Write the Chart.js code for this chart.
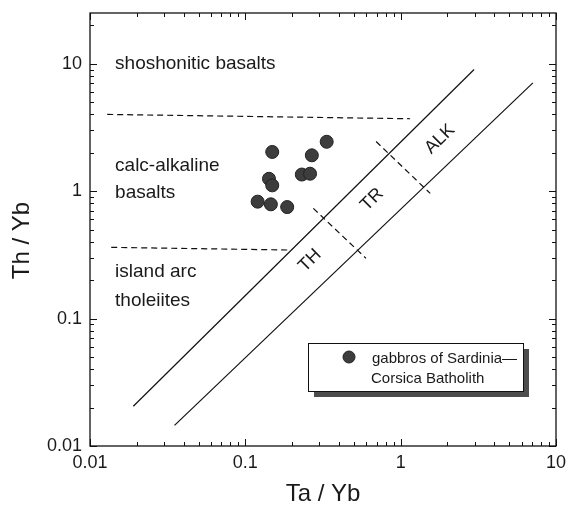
<!DOCTYPE html>
<html>
<head>
<meta charset="utf-8">
<script src="https://cdn.jsdelivr.net/npm/chart.js@4.4.0/dist/chart.umd.min.js"></script>
<style>
  html, body { margin: 0; padding: 0; background: #fff; }
  canvas { display: block; }
</style>
</head>
<body>
<canvas id="chart" width="568" height="511"></canvas>
<script>
// Gabbro samples
const taYb = [0.149, 0.334, 0.268, 0.231, 0.261, 0.142, 0.149, 0.120, 0.146, 0.186];
const thYb = [2.03, 2.44, 1.91, 1.35, 1.37, 1.25, 1.11, 0.827, 0.788, 0.750];

// Field boundaries: end points as Ta/Yb and Th/Yb
const upperLineX = [0.019, 2.97];
const upperLineY = [0.0205, 9.0];
const lowerLineX = [0.035, 7.1];
const lowerLineY = [0.0145, 7.07];
const shoDashX = [0.0129, 1.15];
const shoDashY = [4.0, 3.7];
const iatDashX = [0.0137, 0.194];
const iatDashY = [0.362, 0.345];
const thTrDashX = [0.274, 0.598];
const thTrDashY = [0.733, 0.297];
const trAlkDashX = [0.695, 1.55];
const trAlkDashY = [2.45, 0.96];

// Axes
const decades = [0.01, 0.1, 1, 10];
const xRange = [0.01, 10];
const yRange = [0.01, 25];
const legendLines = ["gabbros of Sardinia\u2014", "Corsica Batholith"];

const FONT = '"Liberation Sans", Arial, sans-serif';
const INK = "#1a1a1a";

const pairs = (xs, ys) => xs.map((x, i) => ({ x, y: ys[i] }));

// 1..9 x 10^n ticks inside the axis range
const buildTicks = (min, max) => {
  const out = [];
  decades.forEach(d => {
    for (let m = 1; m <= 9; m++) {
      const v = +(d * m).toPrecision(3);
      if (v >= min - 1e-9 && v <= max + 1e-9) out.push(v);
    }
  });
  return out;
};

const boundary = (label, xs, ys, dashed) => ({
  type: "line",
  label,
  data: pairs(xs, ys),
  borderColor: "#111",
  borderWidth: 1.2,
  borderDash: dashed ? [6, 4] : [],
  pointRadius: 0,
  fill: false,
  tension: 0,
});

// Frame, inward ticks, field names, legend box
const decorations = {
  id: "decorations",
  afterDraw(chart) {
    const { ctx, chartArea } = chart;
    const { left, right, top, bottom } = chartArea;
    const xs = chart.scales.x, ys = chart.scales.y;
    ctx.save();
    ctx.strokeStyle = "#111";
    ctx.lineWidth = 1.3;
    ctx.strokeRect(left, top, right - left, bottom - top);

    ctx.lineWidth = 1;
    ctx.beginPath();
    xs.ticks.forEach(t => {
      const px = Math.round(xs.getPixelForValue(t.value)) + 0.5;
      const len = decades.includes(t.value) ? 7 : 4;
      ctx.moveTo(px, bottom); ctx.lineTo(px, bottom - len);
      ctx.moveTo(px, top); ctx.lineTo(px, top + len);
    });
    ys.ticks.forEach(t => {
      const py = Math.round(ys.getPixelForValue(t.value)) + 0.5;
      const len = decades.includes(t.value) ? 7 : 4;
      ctx.moveTo(left, py); ctx.lineTo(left + len, py);
      ctx.moveTo(right, py); ctx.lineTo(right - len, py);
    });
    ctx.stroke();

    // field names
    ctx.fillStyle = INK;
    ctx.font = "19px " + FONT;
    ctx.textAlign = "left";
    ctx.textBaseline = "middle";
    [
      ["shoshonitic basalts", 0.0145, 10],
      ["calc-alkaline", 0.0145, 1.595],
      ["basalts", 0.0145, 0.977],
      ["island arc", 0.0145, 0.231],
      ["tholeiites", 0.0145, 0.138],
    ].forEach(([txt, x, y]) => {
      ctx.fillText(txt, xs.getPixelForValue(x), ys.getPixelForValue(y));
    });

    // band names, turned along the boundary lines
    const ang = Math.atan2(
      ys.getPixelForValue(upperLineY[1]) - ys.getPixelForValue(upperLineY[0]),
      xs.getPixelForValue(upperLineX[1]) - xs.getPixelForValue(upperLineX[0])
    );
    ctx.textAlign = "center";
    ctx.font = "18px " + FONT;
    [["TH", 0.261, 0.285], ["TR", 0.655, 0.86], ["ALK", 1.79, 2.56]].forEach(([txt, x, y]) => {
      ctx.save();
      ctx.translate(xs.getPixelForValue(x), ys.getPixelForValue(y));
      ctx.rotate(ang);
      ctx.fillText(txt, 0, 0);
      ctx.restore();
    });

    // y axis title
    ctx.save();
    ctx.translate(22, (top + bottom) / 2 + 11);
    ctx.rotate(-Math.PI / 2);
    ctx.font = "24px " + FONT;
    ctx.fillText("Th / Yb", 0, 0);
    ctx.restore();

    // legend box with drop shadow
    const bx = right - 248, by = top + 330, bw = 215, bh = 48;
    ctx.fillStyle = "#4d4d4d";
    ctx.fillRect(bx + 6, by + 6, bw, bh);
    ctx.fillStyle = "#fff";
    ctx.fillRect(bx, by, bw, bh);
    ctx.strokeStyle = "#111";
    ctx.lineWidth = 1;
    ctx.strokeRect(bx + 0.5, by + 0.5, bw, bh);
    ctx.beginPath();
    ctx.arc(bx + 41, by + 14, 6, 0, Math.PI * 2);
    ctx.fillStyle = "#3d3d3d";
    ctx.fill();
    ctx.strokeStyle = "#222";
    ctx.stroke();
    ctx.fillStyle = INK;
    ctx.font = "15px " + FONT;
    ctx.textAlign = "left";
    ctx.fillText(legendLines[0], bx + 64, by + 16);
    ctx.fillText(legendLines[1], bx + 63, by + 36);
    ctx.restore();
  },
};

const tickFont = { family: FONT, size: 18 };

new Chart(document.getElementById("chart"), {
  type: "scatter",
  data: {
    datasets: [
      {
        label: "gabbros of Sardinia-Corsica Batholith",
        data: pairs(taYb, thYb),
        pointRadius: 6.5,
        pointHoverRadius: 6.5,
        backgroundColor: "#3d3d3d",
        borderColor: "#222",
        borderWidth: 1,
        order: 0,
      },
      boundary("upper", upperLineX, upperLineY, false),
      boundary("lower", lowerLineX, lowerLineY, false),
      boundary("sho", shoDashX, shoDashY, true),
      boundary("iat", iatDashX, iatDashY, true),
      boundary("th-tr", thTrDashX, thTrDashY, true),
      boundary("tr-alk", trAlkDashX, trAlkDashY, true),
    ],
  },
  options: {
    responsive: false,
    animation: false,
    devicePixelRatio: 1,
    layout: { padding: { top: 13, right: 12, left: 0, bottom: 0 } },
    plugins: { legend: { display: false }, tooltip: { enabled: false } },
    scales: {
      x: {
        type: "logarithmic",
        position: "bottom",
        min: xRange[0],
        max: xRange[1],
        grid: { display: false, drawTicks: false },
        border: { display: false },
        afterBuildTicks: s => {
          s.ticks = buildTicks(s.min, s.max).map(v => ({ value: v, major: decades.includes(v) }));
        },
        afterFit: s => {
          s.height = 65;
          s.paddingLeft = 0;
          s.paddingRight = 0;
        },
        ticks: {
          autoSkip: false,
          maxRotation: 0,
          padding: 6,
          color: INK,
          font: tickFont,
          callback: v => (decades.includes(v) ? String(v) : ""),
        },
        title: {
          display: true,
          text: "Ta / Yb",
          color: INK,
          font: { family: FONT, size: 24 },
          padding: { top: 0, bottom: 2 },
        },
      },
      y: {
        type: "logarithmic",
        position: "left",
        min: yRange[0],
        max: yRange[1],
        grid: { display: false, drawTicks: false },
        border: { display: false },
        afterBuildTicks: s => {
          s.ticks = buildTicks(s.min, s.max).map(v => ({ value: v, major: decades.includes(v) }));
        },
        afterFit: s => {
          s.width = 90;
          s.paddingTop = 0;
          s.paddingBottom = 0;
        },
        ticks: {
          autoSkip: false,
          padding: 8,
          color: INK,
          font: tickFont,
          callback: v => (decades.includes(v) ? String(v) : ""),
        },
      },
    },
  },
  plugins: [decorations],
});
</script>
</body>
</html>
